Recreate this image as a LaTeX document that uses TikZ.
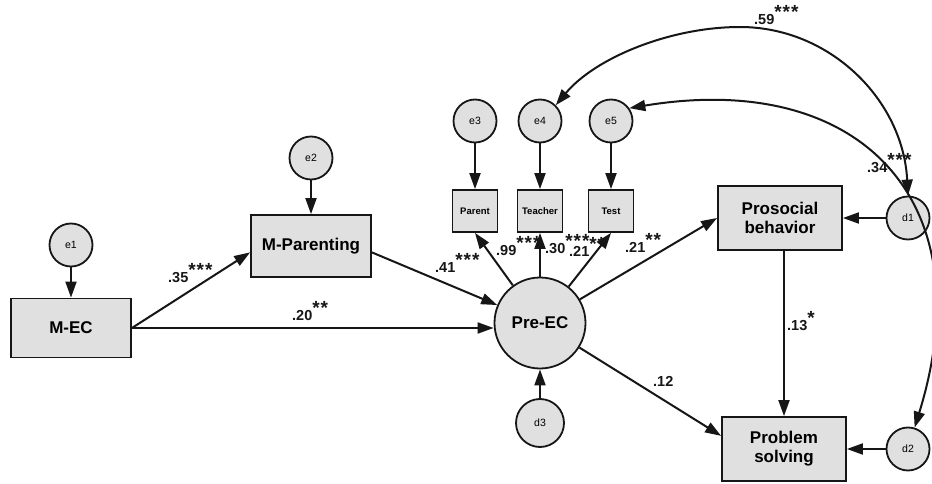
\documentclass[tikz,border=0pt]{standalone}
\usepackage{fontspec}
\setmainfont{Liberation Sans}
\usepackage{tikz}
\usetikzlibrary{calc,arrows.meta}
\usepackage{xcolor}
\definecolor{boxgray}{HTML}{E0E0E0}
\definecolor{inkdark}{HTML}{161616}
\newcommand{\stars}[1]{\raisebox{6pt}{\fontsize{19}{19}\selectfont #1}}
\tikzset{
	var/.style={draw=inkdark, fill=boxgray, line width=1.8pt, inner sep=0pt, align=center, font=\fontsize{17}{19}\selectfont\bfseries},
	item/.style={draw=inkdark, fill=boxgray, line width=1.8pt, inner sep=0pt, minimum width=45pt, minimum height=42pt, font=\fontsize{9.5}{10}\selectfont\bfseries},
	err/.style={circle, draw=inkdark, fill=boxgray, line width=1.8pt, inner sep=0pt, minimum size=43pt, font=\fontsize{10.5}{11}\selectfont},
	reg/.style={draw=inkdark, line width=2pt, -{Triangle[length=16pt,width=11pt]}},
	cov/.style={draw=inkdark, line width=2pt, {Triangle[length=16pt,width=11pt]}-{Triangle[length=16pt,width=11pt]}},
	est/.style={anchor=base west, inner sep=0pt, text=inkdark, font=\fontsize{14.5}{15}\selectfont\bfseries},
}

\begin{document}
\begin{tikzpicture}[x=1pt, y=-1pt]
	\useasboundingbox (0,0) rectangle (932,484);
	\node[var, minimum width=120pt, minimum height=59pt] (mec) at (71,328) {M-EC};
	\node[var, minimum width=120pt, minimum height=62pt] (mpar) at (311,246) {M-Parenting};
	\node[err, minimum size=91pt, font=\fontsize{17}{19}\selectfont\bfseries] (preec) at (540,323) {Pre-EC};
	\node[item] (parent) at (475,211) {Parent};
	\node[item] (teacher) at (540,211) {Teacher};
	\node[item] (test) at (611,211) {Test};
	\node[var, minimum width=124pt, minimum height=64pt] (prosoc) at (780,218) {Prosocial\\behavior};
	\node[var, minimum width=124pt, minimum height=64pt] (probsolv) at (784,449) {Problem\\solving};
	\node[err] (e1) at (71,245) {e1};
	\node[err] (e2) at (311,158) {e2};
	\node[err] (e3) at (475,121) {e3};
	\node[err] (e4) at (540,121) {e4};
	\node[err] (e5) at (611,121) {e5};
	\node[err] (d1) at (908,218) {d1};
	\node[err] (d2) at (908,449) {d2};
	\node[err, minimum size=48pt] (d3) at (540,423) {d3};
	\coordinate (arc59) at (740,27);
	\draw[reg] (e1) -- (mec);
	\draw[reg] (e2) -- (mpar);
	\draw[reg] (e3) -- (parent);
	\draw[reg] (e4) -- (teacher);
	\draw[reg] (e5) -- (test);
	\draw[reg] (d3) -- (preec);
	\draw[reg] (d1) -- (prosoc);
	\draw[reg] (d2) -- (probsolv);
	\draw[reg] (mec.east) -- ($(mpar.north west)!0.6!(mpar.south west)$);
	\draw[reg] (mec.east) -- (mec.east -| preec.west);
	\draw[reg] ($(mpar.north east)!0.6!(mpar.south east)$) -- (preec);
	\draw[reg] (preec) -- (parent.south);
	\draw[reg] (preec) -- (teacher);
	\draw[reg] (preec) -- (test.south);
	\draw[reg] (preec) -- (prosoc.west);
	\draw[reg] (preec) -- ($(probsolv.north west)!0.3!(probsolv.south west)$);
	\draw[reg] (prosoc.south -| probsolv.north) -- (probsolv.north);
	\draw[cov] (e4.45) .. controls (595,58) and (670,27) .. (arc59) .. controls (830,27) and (903,100) .. (d1.north);
	\draw[cov] (e5.35) .. controls (860,70) and (985,200) .. (d2);
	\node[est] (l35) at (168,282) {.35\stars{*\kern1pt*\kern1pt*}};
	\node[est] (l20) at (292,320) {.20\stars{*\kern1pt*}};
	\node[est] (l41) at (435,272) {.41\stars{*\kern1pt*\kern1pt*}};
	\node[est] (l99) at (496,255) {.99\stars{*\kern1pt*\kern1pt*}};
	\node[est] (l30) at (545,253) {.30\stars{*\kern1pt*\kern1pt*}};
	\node[est] (l21t) at (569,256) {.21\stars{*\kern1pt*}};
	\node[est] (l21p) at (625,252) {.21\stars{*\kern1pt*}};
	\node[est] (l13) at (787,330) {.13\stars{*}};
	\node[est] (l12) at (653,386) {.12};
	\node[est] (l59) at (754,25) {.59\stars{*\kern1pt*\kern1pt*}};
	\node[est] (l34) at (867,173) {.34\stars{*\kern1pt*\kern1pt*}};
\end{tikzpicture}
\end{document}
